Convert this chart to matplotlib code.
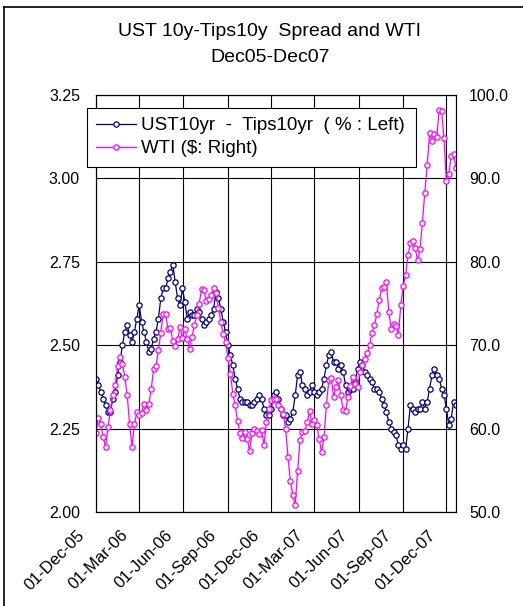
import matplotlib
matplotlib.use("Agg")
import matplotlib.pyplot as plt
import matplotlib.dates as mdates
import matplotlib.transforms as mtransforms
from matplotlib.lines import Line2D
import pandas as pd

plt.rcParams["font.family"] = ["Liberation Sans", "DejaVu Sans"]

# Observation dates (every 5 days, Dec 2005 - Dec 2007)
dates = pd.date_range("2005-12-01", periods=151, freq="5D")

# UST 10y yield minus TIPS 10y real yield (%)
spread = [2.40, 2.38, 2.36, 2.34, 2.32, 2.30, 2.30, 2.34, 2.36, 2.41,
          2.45, 2.50, 2.54, 2.56, 2.53, 2.51, 2.54, 2.58, 2.62, 2.57,
          2.54, 2.51, 2.48, 2.49, 2.52, 2.54, 2.58, 2.64, 2.67, 2.67,
          2.70, 2.72, 2.74, 2.69, 2.64, 2.62, 2.67, 2.63, 2.58, 2.60,
          2.59, 2.59, 2.61, 2.60, 2.58, 2.56, 2.57, 2.58, 2.59, 2.61,
          2.66, 2.64, 2.61, 2.57, 2.54, 2.50, 2.47, 2.44, 2.40, 2.37,
          2.34, 2.33, 2.33, 2.33, 2.32, 2.32, 2.33, 2.34, 2.35, 2.34,
          2.31, 2.29, 2.29, 2.31, 2.35, 2.36, 2.34, 2.31, 2.29, 2.29,
          2.27, 2.28, 2.30, 2.35, 2.41, 2.42, 2.38, 2.37, 2.35, 2.36,
          2.38, 2.36, 2.35, 2.36, 2.37, 2.40, 2.44, 2.47, 2.48, 2.45,
          2.45, 2.43, 2.44, 2.42, 2.38, 2.36, 2.37, 2.37, 2.39, 2.43,
          2.45, 2.44, 2.42, 2.41, 2.40, 2.39, 2.37, 2.37, 2.36, 2.34,
          2.32, 2.30, 2.27, 2.25, 2.24, 2.23, 2.20, 2.19, 2.20, 2.19,
          2.25, 2.32, 2.31, 2.30, 2.31, 2.31, 2.33, 2.31, 2.33, 2.37,
          2.41, 2.43, 2.41, 2.40, 2.37, 2.35, 2.31, 2.26, 2.28, 2.33,
          2.32]

# WTI crude oil price ($/bbl)
wti = [59.5, 61.3, 60.6, 59.0, 57.8, 60.2, 62.2, 64.0, 65.2, 67.5,
       68.6, 67.8, 66.2, 64.0, 60.6, 57.8, 60.5, 62.0, 61.6, 61.9,
       63.0, 62.2, 62.9, 64.7, 67.1, 67.5, 69.4, 71.5, 73.8, 73.7,
       72.0, 72.1, 70.5, 69.9, 70.7, 72.2, 70.9, 71.9, 70.8, 69.6,
       71.0, 72.4, 73.6, 75.0, 76.7, 76.6, 75.3, 75.5, 76.0, 76.8,
       76.3, 74.5, 72.8, 71.3, 70.4, 68.5, 66.6, 64.2, 62.8, 60.9,
       59.5, 58.9, 59.6, 58.8, 57.3, 59.5, 59.9, 59.7, 59.4, 59.8,
       58.0, 60.8, 62.3, 63.4, 63.5, 63.6, 62.8, 62.3, 61.8, 60.0,
       56.6, 53.7, 52.0, 50.8, 54.9, 58.6, 59.6, 59.7, 60.8, 62.1,
       60.5, 61.0, 60.4, 58.7, 57.2, 59.0, 62.8, 65.8, 66.1, 63.8,
       65.0, 65.8, 64.0, 62.2, 62.1, 63.8, 65.1, 66.2, 65.3, 65.0,
       66.8, 67.6, 68.4, 69.1, 70.0, 71.5, 72.4, 73.7, 75.4, 76.8,
       77.0, 77.6, 74.0, 72.0, 72.6, 72.3, 71.2, 74.8, 77.1, 78.4,
       80.8, 82.2, 82.5, 81.6, 80.2, 81.5, 84.7, 88.3, 91.6, 95.4,
       94.5, 95.3, 95.0, 98.2, 98.1, 94.8, 89.7, 90.5, 92.7, 92.9,
       91.2]

tick_dates = pd.to_datetime(["2005-12-01", "2006-03-01", "2006-06-01",
                             "2006-09-01", "2006-12-01", "2007-03-01",
                             "2007-06-01", "2007-09-01", "2007-12-01"])
left_ticks = [2.00, 2.25, 2.50, 2.75, 3.00, 3.25]
right_ticks = [50, 60, 70, 80, 90, 100]

W, H = 523, 606
fig = plt.figure(figsize=(W / 100, H / 100), dpi=100)
ax = fig.add_axes([96 / W, 1 - 512 / H, (456 - 96) / W, (512 - 95) / H])
ax2 = ax.twinx()

navy = "#000080"
magenta = "#FF00FF"
fs = 11.5

l1, = ax.plot(dates, spread, color=navy, lw=0.9, marker="o", ms=3.8,
              mfc="white", mec=navy, mew=0.9,
              label="UST10yr  -  Tips10yr  ( % : Left)")
l2, = ax2.plot(dates, wti, color=magenta, lw=0.9, marker="o", ms=3.8,
               mfc="white", mec=magenta, mew=0.9,
               label=r"WTI (\$: Right)")

ax.set_xlim(pd.Timestamp("2005-12-01"), pd.Timestamp("2007-12-21"))
ax.set_ylim(2.0, 3.25)
ax2.set_ylim(50, 100)

ax.set_yticks(left_ticks)
ax.set_yticklabels([f"{v:.2f}" for v in left_ticks], fontsize=fs)
ax2.set_yticks(right_ticks)
ax2.set_yticklabels([f"{v:.1f}" for v in right_ticks], fontsize=fs)
ax.set_xticks(tick_dates)
ax.xaxis.set_major_formatter(mdates.DateFormatter("%d-%b-%y"))

ax.tick_params(axis="y", length=0, pad=11.5)
ax.tick_params(axis="x", length=0, pad=11)
ax2.tick_params(axis="y", length=0, pad=9.5)

shift = mtransforms.ScaledTranslation(-19 / 100, 0, fig.dpi_scale_trans)
for lab in ax.get_xticklabels():
    lab.set_rotation(45)
    lab.set_ha("right")
    lab.set_va("top")
    lab.set_rotation_mode("anchor")
    lab.set_fontsize(12)
    lab.set_transform(lab.get_transform() + shift)

ax.grid(True, color="black", lw=0.8)
ax.set_axisbelow(True)
for sp in list(ax.spines.values()) + list(ax2.spines.values()):
    sp.set_color("black")
    sp.set_linewidth(0.8)

fig.text(270 / W, 1 - 32 / H, "UST 10y-Tips10y  Spread and WTI",
         ha="center", va="center", fontsize=14)
fig.text(270 / W, 1 - 58 / H, "Dec05-Dec07",
         ha="center", va="center", fontsize=14)

leg = fig.legend([l1, l2], [l1.get_label(), l2.get_label()],
                 loc="upper left",
                 bbox_to_anchor=(87 / W, 1 - 160 / H, (416 - 87) / W, 52 / H),
                 mode="expand", borderaxespad=0, fontsize=13.5,
                 handlelength=2.1, handletextpad=0.27, labelspacing=0.3,
                 borderpad=0.5, fancybox=False, framealpha=1)
leg.get_frame().set_edgecolor("black")
leg.get_frame().set_linewidth(0.8)

# Chart-area frame
fig.add_artist(Line2D([4 / W, 1.0], [1 - 7 / H, 1 - 7 / H], color="black", lw=1.2))
fig.add_artist(Line2D([4 / W, 4 / W], [0.0, 1 - 7 / H], color="black", lw=1.2))

fig.savefig("out.png", dpi=100, facecolor="white")
